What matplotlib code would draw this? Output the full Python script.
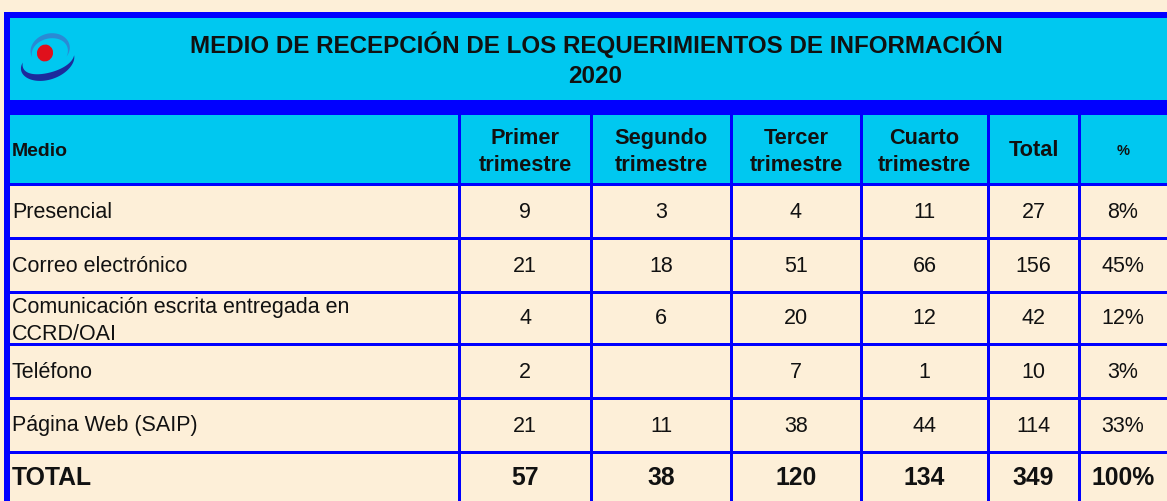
import numpy as np
import matplotlib
matplotlib.use("Agg")
import matplotlib.pyplot as plt
from matplotlib.patches import Rectangle, Ellipse, Polygon

plt.rcParams['font.family'] = ['Liberation Sans', 'DejaVu Sans']

# data
title = "MEDIO DE RECEPCIÓN DE LOS REQUERIMIENTOS DE INFORMACIÓN"
year = "2020"
medios = ["Presencial", "Correo electrónico",
          "Comunicación escrita entregada en\nCCRD/OAI", "Teléfono",
          "Página Web (SAIP)"]
col_labels = ["Primer\ntrimestre", "Segundo\ntrimestre", "Tercer\ntrimestre",
              "Cuarto\ntrimestre", "Total", "%"]
q1 = [9, 21, 4, 2, 21]
q2 = [3, 18, 6, None, 11]
q3 = [4, 51, 20, 7, 38]
q4 = [11, 66, 12, 1, 44]

quarters = [q1, q2, q3, q4]
row_tot = [sum(q[i] or 0 for q in quarters) for i in range(len(medios))]
col_tot = [sum(v or 0 for v in q) for q in quarters]
grand = sum(row_tot)

CREAM = "#fdefd8"
CYAN = "#00c8f0"
BLUE = "#0000ff"
INK = "#111111"

W, H = 1167, 501
fig = plt.figure(figsize=(W / 100, H / 100), dpi=100, facecolor=CREAM)
ax = fig.add_axes([0, 0, 1, 1])
ax.set_xlim(0, W)
ax.set_ylim(H, 0)
ax.axis("off")

def box(x0, y0, x1, y1, color):
    ax.add_patch(Rectangle((x0, y0), x1 - x0, y1 - y0, facecolor=color,
                           edgecolor="none", zorder=1))

# frame and header blocks
box(4, 12, W, H, BLUE)
box(10, 18, W, 100, CYAN)
box(10, 115, W, 184, CYAN)
box(10, 184, W, H, CREAM)

col_edges = [459, 591, 731, 861, 988, 1079]
row_edges = [184, 238, 292, 344, 398, 452]
for x in col_edges:
    box(x - 1.5, 115, x + 1.5, H, BLUE)
for y in row_edges:
    box(10, y - 1.5, W, y + 1.5, BLUE)

# logo
def crescent(cx, cy, a, b, rot, t0, t1, wmax, color):
    t = np.radians(np.linspace(t0, t1, 80))
    w = wmax * np.sin(np.pi * (t - t[0]) / (t[-1] - t[0]))
    r = np.radians(rot)
    def pts(aa, bb):
        x = aa * np.cos(t)
        y = bb * np.sin(t)
        return np.c_[cx + x * np.cos(r) - y * np.sin(r),
                     cy + x * np.sin(r) + y * np.cos(r)]
    outer = pts(a + w / 2, b + w / 2)
    inner = pts(a - w / 2, b - w / 2)
    ax.add_patch(Polygon(np.vstack([outer, inner[::-1]]), closed=True,
                         facecolor=color, edgecolor="none", zorder=3))

crescent(50, 51, 19, 15, -15, 175, 400, 5, "#2a8ad4")
crescent(48, 61, 27, 15, -18, 205, 10, 7, "#1c2a9c")
ax.add_patch(Ellipse((45, 53), 16, 17, angle=20, facecolor="#e0101c",
                     edgecolor="none", zorder=4))

# title
ax.text(596, 45, title, ha="center", va="center", fontsize=17.4,
        fontweight="bold", color=INK, zorder=5)
ax.text(595, 76, year, ha="center", va="center", fontsize=17.4,
        fontweight="bold", color=INK, zorder=5)

# header row
bounds = [459] + col_edges[1:] + [W]
centers = [(bounds[i] + bounds[i + 1]) / 2 for i in range(len(bounds) - 1)]
hy = 152
ax.text(12, hy, "Medio", ha="left", va="center", fontsize=14,
        fontweight="bold", color=INK, zorder=5)
for cx, lab in zip(centers, col_labels):
    fs = 10.5 if lab == "%" else 15.7
    ax.text(cx, hy if "\n" in lab else hy - 1, lab, ha="center", va="center",
            fontsize=fs, fontweight="bold", color=INK, linespacing=1.4,
            zorder=5)

# body rows
row_mid = [(row_edges[i] + row_edges[i + 1]) / 2 for i in range(len(row_edges) - 1)]
for i, name in enumerate(medios):
    y = row_mid[i]
    ax.text(12, y + (3 if "\n" in name else 1), name, ha="left", va="center",
            fontsize=15.5, color=INK, linespacing=1.36, zorder=5)
    vals = [q[i] for q in quarters] + [row_tot[i]]
    for cx, v in zip(centers[:5], vals):
        if v is not None:
            ax.text(cx, y + 1, str(v), ha="center", va="center",
                    fontsize=15.5, color=INK, zorder=5)
    ax.text(centers[5], y + 1, f"{row_tot[i] / grand:.0%}", ha="center",
            va="center", fontsize=15.5, color=INK, zorder=5)

# total row
ty = 478
ax.text(12, ty, "TOTAL", ha="left", va="center", fontsize=17.8,
        fontweight="bold", color=INK, zorder=5)
for cx, v in zip(centers[:5], col_tot + [grand]):
    ax.text(cx, ty, str(v), ha="center", va="center", fontsize=17.8,
            fontweight="bold", color=INK, zorder=5)
ax.text(centers[5], ty, "100%", ha="center", va="center", fontsize=17.8,
        fontweight="bold", color=INK, zorder=5)

fig.savefig("out.png", dpi=100, facecolor=CREAM)
